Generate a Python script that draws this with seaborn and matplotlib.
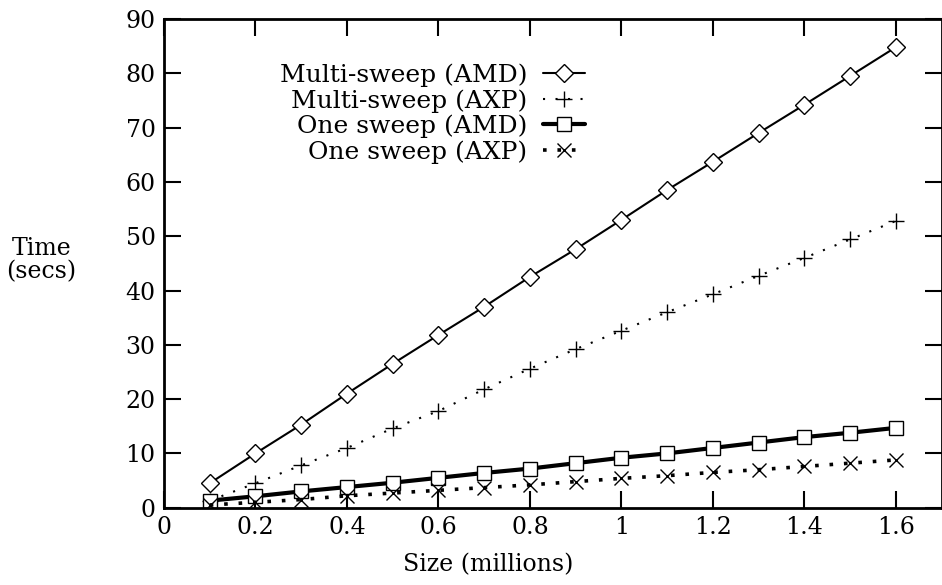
import matplotlib
matplotlib.use("Agg")
import matplotlib.pyplot as plt
import seaborn as sns
import pandas as pd

sizes = [0.1, 0.2, 0.3, 0.4, 0.5, 0.6, 0.7, 0.8, 0.9, 1.0, 1.1, 1.2, 1.3, 1.4, 1.5, 1.6]
multi_amd = [4.5, 10.0, 15.3, 21.0, 26.5, 31.8, 37.0, 42.5, 47.6, 53.0, 58.5, 63.7, 69.0, 74.2, 79.5, 84.8]
multi_axp = [1.3, 4.5, 7.8, 11.0, 14.6, 17.8, 21.8, 25.6, 29.2, 32.6, 36.0, 39.3, 42.7, 46.0, 49.4, 52.8]
one_amd = [1.3, 2.1, 3.0, 3.8, 4.6, 5.5, 6.4, 7.2, 8.2, 9.2, 10.0, 11.0, 12.0, 13.0, 13.8, 14.7]
one_axp = [0.5, 1.0, 1.5, 2.2, 2.7, 3.2, 3.7, 4.2, 4.8, 5.4, 5.9, 6.5, 7.0, 7.6, 8.2, 8.8]
series_names = ["Multi-sweep (AMD)", "Multi-sweep (AXP)", "One sweep (AMD)", "One sweep (AXP)"]
x_ticks = [0, 0.2, 0.4, 0.6, 0.8, 1, 1.2, 1.4, 1.6]
x_tick_labels = ["0", "0.2", "0.4", "0.6", "0.8", "1", "1.2", "1.4", "1.6"]
y_ticks = [0, 10, 20, 30, 40, 50, 60, 70, 80, 90]

sns.set_theme(style="ticks")
plt.rcParams["font.family"] = ["DejaVu Serif", "Liberation Serif"]
plt.rcParams["text.color"] = "black"
plt.rcParams["axes.labelcolor"] = "black"
plt.rcParams["xtick.color"] = "black"
plt.rcParams["ytick.color"] = "black"
FS = 17

fig = plt.figure(figsize=(9.42, 5.85), dpi=100)
ax = fig.add_axes([164 / 942, 1 - 507.7 / 585, (941.5 - 164) / 942, (507.7 - 19) / 585])

styles = [
    dict(marker="D", markersize=9.5, markerfacecolor="white", markeredgecolor="black",
         markeredgewidth=1.0, linestyle="-", linewidth=1.5),
    dict(marker="+", markersize=11, markeredgecolor="black", markeredgewidth=1.0,
         linestyle=(0, (1, 5)), linewidth=1.5),
    dict(marker="s", markersize=10.5, markerfacecolor="white", markeredgecolor="black",
         markeredgewidth=1.0, linestyle="-", linewidth=3.0),
    dict(marker="x", markersize=10, markeredgecolor="black", markeredgewidth=1.0,
         linestyle=(0, (1, 3)), linewidth=2.6),
]
all_vals = [multi_amd, multi_axp, one_amd, one_axp]

for name, vals, st in zip(series_names, all_vals, styles):
    df = pd.DataFrame({"size": sizes, "time": vals})
    sns.lineplot(data=df, x="size", y="time", ax=ax, color="black", label=name,
                 **st)

ax.set_xlim(0, 1.7)
ax.set_ylim(0, 90)
ax.set_xticks(x_ticks)
ax.set_xticklabels(x_tick_labels)
ax.set_yticks(y_ticks)
ax.tick_params(direction="in", length=12, width=1.5, top=True, right=True,
               labelsize=FS, colors="black", pad=6)
for sp in ax.spines.values():
    sp.set_linewidth(2)
    sp.set_color("black")

ax.set_xlabel("Size (millions)", fontsize=FS, color="black")
ax.xaxis.set_label_coords(0.417, -0.093)
ax.set_ylabel("Time\n(secs)", fontsize=FS, rotation=0, linespacing=1.0, color="black")
ax.yaxis.set_label_coords(-0.158, 0.46)

leg = ax.legend(loc="upper right", bbox_to_anchor=(0.5415, 0.909), frameon=False,
                markerfirst=False, fontsize=18, handlelength=1.68, handletextpad=0.62,
                labelspacing=0.08, borderpad=0, borderaxespad=0)
for t in leg.get_texts():
    t.set_color("black")

fig.savefig("out.png", dpi=100)
